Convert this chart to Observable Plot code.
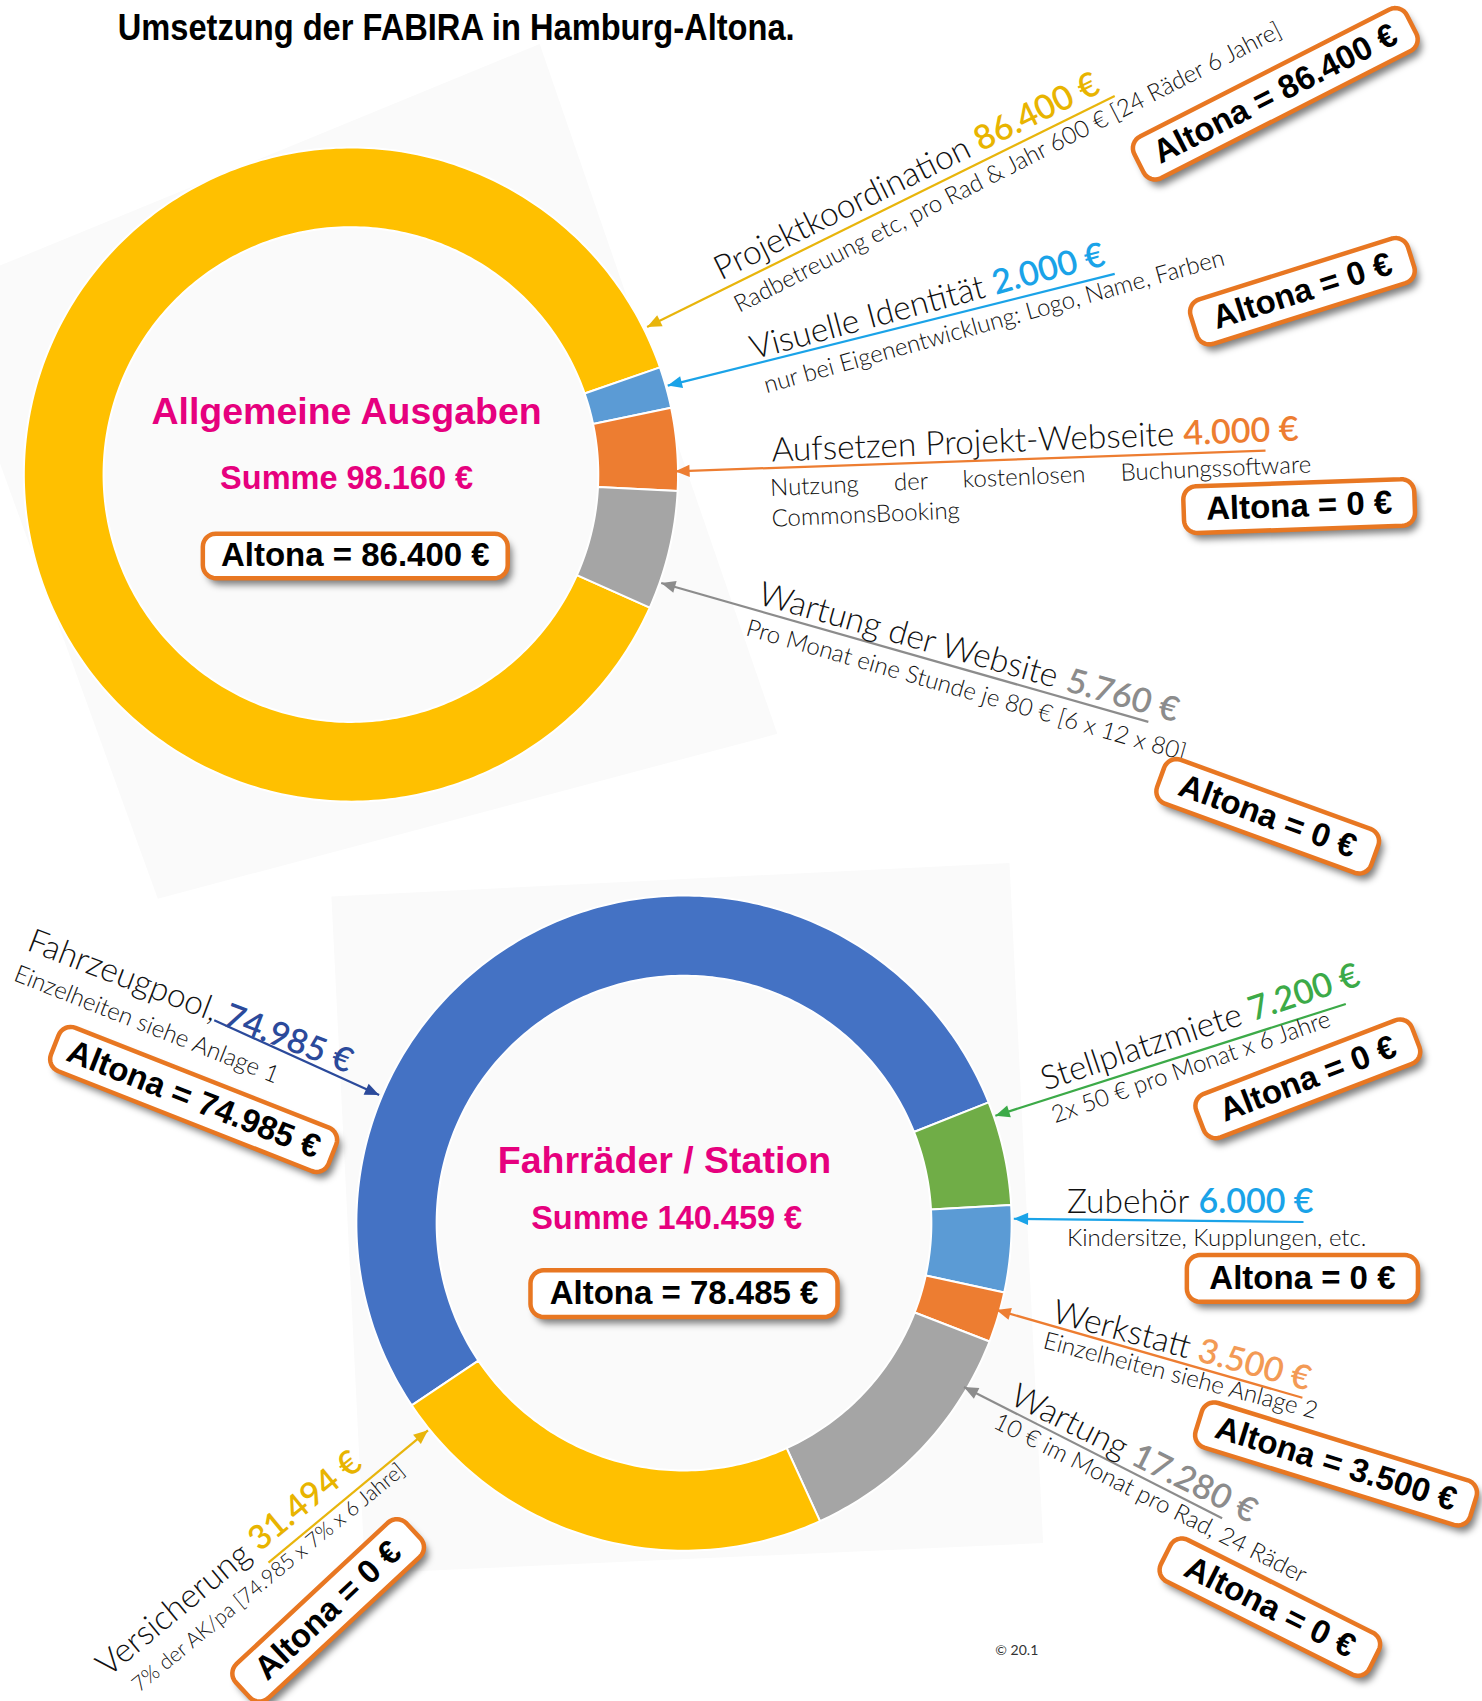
<!DOCTYPE html>
<html><head><meta charset="utf-8">
<script src="https://cdn.jsdelivr.net/npm/d3@7"></script>
<script src="https://cdn.jsdelivr.net/npm/@observablehq/plot@0.6"></script>
<style>
html,body{margin:0;padding:0;background:#fff;}
#chart svg{display:block;}
</style></head>
<body><div id="chart"></div>
<script>
// ---------------- DATA ----------------
const titleText = "Umsetzung der FABIRA in Hamburg-Altona.";

const generalTitle = "Allgemeine Ausgaben";
const generalCategories = ["Projektkoordination", "Visuelle Identität", "Aufsetzen Projekt-Webseite", "Wartung der Website"];
const generalValues = [86400, 2000, 4000, 5760];
const generalNotes = [
  "Radbetreuung etc, pro Rad & Jahr 600 € [24 Räder 6 Jahre]",
  "nur bei Eigenentwicklung: Logo, Name, Farben",
  "Nutzung der kostenlosen Buchungssoftware\nCommonsBooking",
  "Pro Monat eine Stunde je 80 € [6 x 12 x 80]"
];
const generalAltona = [86400, 0, 0, 0];

const bikeTitle = "Fahrräder / Station";
const bikeCategories = ["Fahrzeugpool,", "Stellplatzmiete", "Zubehör", "Werkstatt", "Wartung", "Versicherung"];
const bikeValues = [74985, 7200, 6000, 3500, 17280, 31494];
const bikeNotes = [
  "Einzelheiten siehe Anlage 1",
  "2x 50 € pro Monat x 6 Jahre",
  "Kindersitze, Kupplungen, etc.",
  "Einzelheiten siehe Anlage 2",
  "10 € im Monat pro Rad, 24 Räder",
  "7% der AK/pa [74.985 x 7% x 6 Jahre]"
];
const bikeAltona = [74985, 0, 0, 3500, 0, 0];

const copyrightText = "© 20.1";

// ---------------- STYLES ----------------
const generalSliceColors = ["#FFC000", "#5B9BD5", "#ED7D31", "#A5A5A5"];
const generalLabelColors = ["#E8B400", "#1AA3E8", "#ED7D31", "#8C8C8C"];
const generalLineColors  = ["#E8B50C", "#1AA3E8", "#ED7D31", "#8C8C8C"];
const bikeSliceColors = ["#4472C4", "#70AD47", "#5B9BD5", "#ED7D31", "#A5A5A5", "#FFC000"];
const bikeLabelColors = ["#2B4A9B", "#3CAA48", "#1AA3E8", "#F39A55", "#8C8C8C", "#E8B400"];
const bikeLineColors  = ["#2B4A9B", "#3CAA48", "#1AA3E8", "#ED7D31", "#8C8C8C", "#E8B50C"];
const MAGENTA = "#E6007E", BOXSTROKE = "#E87722", PANEL = "#fafafa";
const LABELFONT = "Lato, 'Liberation Sans', sans-serif";
const BOLDFONT = "'Liberation Sans', Arial, sans-serif";
const NAMESIZE = 33.5, VALUESIZE = 34, NOTESIZE = 24;

// ---------------- LAYOUT (reference units 1366 x 1568) ----------------
const K = 1482 / 1366; // pixels per reference unit
const donutGeneral = {cx: 323, cy: 437, r0: 228, r1: 301.5, start: 114};
const donutBike    = {cx: 630, cy: 1127, r0: 228, r1: 302, start: 236.2};
const centerGeneral = {title: [319, 390], sum: [319, 450], box: [327, 512], boxW: 281, boxH: 41};
const centerBike    = {title: [612, 1081], sum: [614, 1132], box: [630, 1192], boxW: 283, boxH: 43};
const panels = [
  {key: "p1", pts: [[-58, 268], [497, 40], [716, 676], [145, 828]]},
  {key: "p2", pts: [[305, 826], [930, 795], [961, 1422], [336, 1450]]}
];

const generalLayout = [
  {tip: [596, 301], tail: [1027, 88],  name: [664, 258], rot: -26.3, sub: [681, 288], subRot: -27,  box: [1175, 86],  boxRot: -27,  boxW: 282},
  {tip: [615, 355], tail: [1027, 252], name: [694, 331], rot: -15,   sub: [706, 362], subRot: -15.6, box: [1200, 268], boxRot: -17.5, boxW: 210},
  {tip: [622, 434], tail: [1166, 415], name: [711, 425], rot: -2.3,  sub: [711, 485], subRot: -2.5, box: [1197, 466], boxRot: -2,   boxW: 213},
  {tip: [609, 537], tail: [1058, 665], name: [697, 556], rot: 15.8,  sub: [686, 585], subRot: 16,   box: [1168, 752], boxRot: 20,   boxW: 210}
];
const bikeLayout = [
  {tip: [349, 1009], tail: [197, 940],  name: [23, 875],   rot: 21,    sub: [11, 903],   subRot: 21.5, box: [178, 1013],  boxRot: 21.5, boxW: 275},
  {tip: [917, 1028], tail: [1240, 925], name: [963, 1005], rot: -18.5, sub: [972, 1035], subRot: -19.4, box: [1205, 994], boxRot: -21, boxW: 213},
  {tip: [934, 1123], tail: [1201, 1126], name: [983, 1118], rot: 0,    sub: [983, 1148], subRot: 0,    box: [1200, 1178], boxRot: 0,    boxW: 213},
  {tip: [918, 1207], tail: [1200, 1288], name: [968, 1218], rot: 15,   sub: [960, 1242], subRot: 14.6, box: [1231, 1349], boxRot: 17.2, boxW: 265},
  {tip: [888, 1278], tail: [1126, 1399], name: [929, 1293], rot: 26.5, sub: [914, 1315], subRot: 26.8, box: [1170, 1481], boxRot: 26.6, boxW: 215},
  {tip: [394, 1318], tail: [247, 1440], name: [99, 1546],  rot: -39.5, sub: [128, 1560], subRot: -39.5, subSize: 21, box: [302, 1484], boxRot: -43,  boxW: 215}
];
const BOXH = 43, BOXR = 12;

// ---------------- HELPERS ----------------
const de = d3.formatLocale({decimal: ",", thousands: ".", grouping: [3], currency: ["", " €"]});
const eur = v => de.format(",")(v) + " €";
const measureCtx = document.createElement("canvas").getContext("2d");
function textWidth(str, weight, size, family) {
  measureCtx.font = `${weight} ${size}px ${family}`;
  return measureCtx.measureText(str).width;
}

function slicePoints(values, colors, names, g) {
  const a0 = g.start * Math.PI / 180;
  const arcs = d3.pie().sort(null).startAngle(a0).endAngle(a0 + 2 * Math.PI)(values);
  const pts = [];
  arcs.forEach((a, i) => {
    const n = Math.max(6, Math.ceil((a.endAngle - a.startAngle) * 60));
    const key = names[i];
    const ring = [];
    for (let k = 0; k <= n; k++) {
      const t = a.startAngle + (a.endAngle - a.startAngle) * k / n;
      ring.push({x: g.cx + g.r1 * Math.sin(t), y: g.cy - g.r1 * Math.cos(t)});
    }
    for (let k = n; k >= 0; k--) {
      const t = a.startAngle + (a.endAngle - a.startAngle) * k / n;
      ring.push({x: g.cx + g.r0 * Math.sin(t), y: g.cy - g.r0 * Math.cos(t)});
    }
    ring.push({...ring[0]});
    ring.forEach(p => pts.push({...p, key, color: colors[i]}));
  });
  return pts;
}

function roundedRect(key, cx, cy, w, h, r, deg, off = [0, 0]) {
  const t = deg * Math.PI / 180, c = Math.cos(t), s = Math.sin(t);
  const corners = [[w/2 - r, -h/2 + r, -90], [w/2 - r, h/2 - r, 0], [-w/2 + r, h/2 - r, 90], [-w/2 + r, -h/2 + r, 180]];
  const pts = [];
  for (const [ox, oy, b] of corners) {
    for (let k = 0; k <= 8; k++) {
      const a = (b + k * 90 / 8) * Math.PI / 180;
      const px = ox + r * Math.cos(a), py = oy + r * Math.sin(a);
      pts.push({key, x: cx + px * c - py * s + off[0], y: cy + px * s + py * c + off[1]});
    }
  }
  pts.push({...pts[0]});
  return pts;
}

// ---------------- BUILD MARK DATA ----------------
const slices = [
  ...slicePoints(generalValues, generalSliceColors, generalCategories.map(d => "g-" + d), donutGeneral),
  ...slicePoints(bikeValues, bikeSliceColors, bikeCategories.map(d => "b-" + d), donutBike)
];
const panelPts = panels.flatMap(p => [...p.pts, p.pts[0]].map(([x, y]) => ({key: p.key, x, y})));
const holes = [donutGeneral, donutBike].map(g => ({x: g.cx, y: g.cy, r: g.r0 * K}));

const labels = [];
generalCategories.forEach((c, i) => labels.push({cat: c, value: generalValues[i], note: generalNotes[i], altona: generalAltona[i], lab: generalLabelColors[i], line: generalLineColors[i], L: generalLayout[i]}));
bikeCategories.forEach((c, i) => labels.push({cat: c, value: bikeValues[i], note: bikeNotes[i], altona: bikeAltona[i], lab: bikeLabelColors[i], line: bikeLineColors[i], L: bikeLayout[i]}));

const links = labels.map(d => ({x1: d.L.tail[0], y1: d.L.tail[1], x2: d.L.tip[0], y2: d.L.tip[1], color: d.line,
  angle: Math.atan2(d.L.tip[0] - d.L.tail[0], -(d.L.tip[1] - d.L.tail[1])) * 180 / Math.PI}));

const names = labels.map(d => ({x: d.L.name[0], y: d.L.name[1], text: d.cat, rot: d.L.rot}));
// value follows its name on the same rotated baseline, one space later
const vals = labels.map(d => {
  const adv = (textWidth(d.cat + " ", 300, NAMESIZE, "Lato, sans-serif")) / K;
  const t = d.L.rot * Math.PI / 180;
  return {x: d.L.name[0] + adv * Math.cos(t), y: d.L.name[1] + adv * Math.sin(t), text: eur(d.value), rot: d.L.rot, color: d.lab};
});
const notes = labels.map(d => ({x: d.L.sub[0], y: d.L.sub[1], text: d.note, rot: d.L.subRot, size: d.L.subSize ?? NOTESIZE}));

const boxes = labels.map((d, i) => ({key: "box" + i, cx: d.L.box[0], cy: d.L.box[1], w: d.L.boxW, h: BOXH, rot: d.L.boxRot, text: "Altona = " + eur(d.altona)}));
boxes.push({key: "boxG", cx: centerGeneral.box[0], cy: centerGeneral.box[1], w: centerGeneral.boxW, h: centerGeneral.boxH, rot: 0, text: "Altona = " + eur(d3.sum(generalAltona))});
boxes.push({key: "boxB", cx: centerBike.box[0], cy: centerBike.box[1], w: centerBike.boxW, h: centerBike.boxH, rot: 0, text: "Altona = " + eur(d3.sum(bikeAltona))});
const boxPts = boxes.flatMap(b => roundedRect(b.key, b.cx, b.cy, b.w, b.h, BOXR, b.rot));
const shadowPts = boxes.flatMap(b => roundedRect(b.key, b.cx, b.cy, b.w, b.h, BOXR, b.rot, [4, 6]));

const centerTitles = [
  {x: centerGeneral.title[0], y: centerGeneral.title[1], text: generalTitle},
  {x: centerBike.title[0], y: centerBike.title[1], text: bikeTitle}
];
const centerSums = [
  {x: centerGeneral.sum[0], y: centerGeneral.sum[1], text: "Summe " + eur(d3.sum(generalValues))},
  {x: centerBike.sum[0], y: centerBike.sum[1], text: "Summe " + eur(d3.sum(bikeValues))}
];

const arrowHead = {
  draw(ctx, size) {
    const r = Math.sqrt(size / Math.PI);
    const L = r * 3.4, W = r * 1.45;
    ctx.moveTo(0, 0); ctx.lineTo(W, L); ctx.lineTo(-W, L); ctx.closePath();
  }
};

// ---------------- PLOT ----------------
const svg = Plot.plot({
  width: 1482, height: 1701, margin: 0,
  x: {domain: [0, 1366], range: [0, 1482], axis: null},
  y: {domain: [0, 1568], range: [0, 1701], axis: null},
  color: {type: "identity"},
  style: {background: "#ffffff"},
  marks: [
    Plot.line(panelPts, {x: "x", y: "y", z: "key", fill: PANEL, stroke: "none"}),
    Plot.line(slices, {x: "x", y: "y", z: "key", fill: "color", stroke: "#ffffff", strokeWidth: 2, curve: "linear"}),
    Plot.dot(holes, {x: "x", y: "y", r: "r", fill: "#ffffff", stroke: "none"}),
    Plot.link(links, {x1: "x1", y1: "y1", x2: "x2", y2: "y2", stroke: "color", strokeWidth: 2.2}),
    Plot.dot(links, {x: "x2", y: "y2", rotate: "angle", symbol: arrowHead, r: 4.2, fill: "color", stroke: "none"}),
    Plot.text(names, {x: "x", y: "y", text: "text", rotate: "rot", textAnchor: "start", lineAnchor: "bottom", fontSize: NAMESIZE, fontWeight: 300, fontFamily: LABELFONT, fill: "#111"}),
    Plot.text(vals, {x: "x", y: "y", text: "text", rotate: "rot", textAnchor: "start", lineAnchor: "bottom", fontSize: VALUESIZE, fontWeight: 600, fontFamily: LABELFONT, fill: "color"}),
    Plot.text(notes, {x: "x", y: "y", text: "text", rotate: "rot", textAnchor: "start", lineAnchor: "bottom", fontSize: "size", lineHeight: 1.28, fontWeight: 300, fontFamily: LABELFONT, fill: "#111"}),
    Plot.line(shadowPts, {x: "x", y: "y", z: "key", fill: "#000", fillOpacity: 0.5, stroke: "none", ariaDescription: "box-shadow"}),
    Plot.line(boxPts, {x: "x", y: "y", z: "key", fill: "#ffffff", stroke: BOXSTROKE, strokeWidth: 4.5}),
    Plot.text(boxes, {x: "cx", y: "cy", text: "text", rotate: "rot", textAnchor: "middle", lineAnchor: "middle", fontSize: 33, fontWeight: "bold", fontFamily: BOLDFONT, fill: "#000"}),
    Plot.text(centerTitles, {x: "x", y: "y", text: "text", textAnchor: "middle", lineAnchor: "bottom", fontSize: 37.5, fontWeight: "bold", fontFamily: BOLDFONT, fill: MAGENTA}),
    Plot.text(centerSums, {x: "x", y: "y", text: "text", textAnchor: "middle", lineAnchor: "bottom", fontSize: 32.5, fontWeight: "bold", fontFamily: BOLDFONT, fill: MAGENTA}),
    Plot.text([{x: 108, y: 36, text: titleText}], {x: "x", y: "y", text: "text", textAnchor: "start", lineAnchor: "bottom", fontSize: 37, fontWeight: "bold", fontFamily: BOLDFONT, fill: "#000"}),
    Plot.text([{x: 917, y: 1525, text: copyrightText}], {x: "x", y: "y", text: "text", textAnchor: "start", lineAnchor: "bottom", fontSize: 14, fontFamily: LABELFONT, fill: "#333"})
  ]
});
document.getElementById("chart").appendChild(svg);

// blur the box shadows
const defs = d3.select(svg).insert("defs", ":first-child");
defs.append("filter").attr("id", "boxblur").attr("x", "-20%").attr("y", "-40%").attr("width", "140%").attr("height", "180%")
  .append("feGaussianBlur").attr("stdDeviation", 3.5);
let sh = svg.querySelector('g[aria-description="box-shadow"]');
if (!sh) { const gs = svg.querySelectorAll('g[aria-label="line"]'); sh = gs[2]; }
if (sh) sh.setAttribute("filter", "url(#boxblur)");

svg.querySelectorAll("text").forEach(t => {
  // condensed title: squeeze to the reference width
  if (t.textContent === titleText) {
    t.setAttribute("textLength", ((732 - 108) * K).toFixed(1));
    t.setAttribute("lengthAdjust", "spacingAndGlyphs");
  }
  // justify first line of the two-line note
  if (t.textContent.startsWith("Nutzung")) {
    const first = t.querySelector("tspan") || t;
    const len = first.getComputedTextLength ? first.getComputedTextLength() : 0;
    const target = (1210 - 711) * K;
    if (len > 0 && len < target) t.setAttribute("word-spacing", ((target - len) / 3).toFixed(1));
  }
});
</script>
</body></html>
